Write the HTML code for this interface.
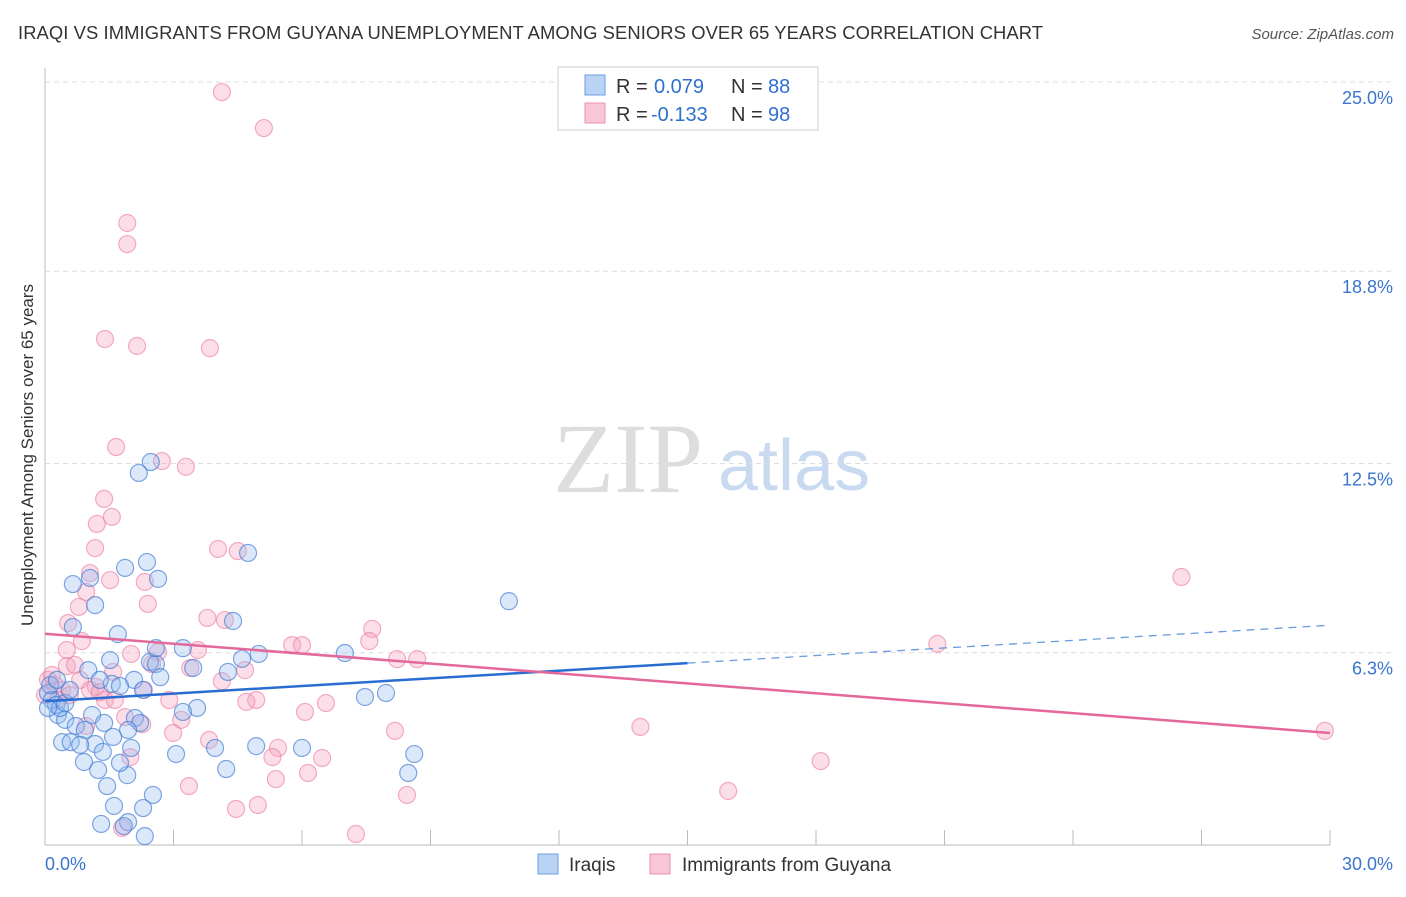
<!DOCTYPE html>
<html><head><meta charset="utf-8"><style>
body{margin:0;background:#fff;font-family:"Liberation Sans",sans-serif;}
#c{position:relative;width:1406px;height:892px;}
</style></head><body>
<div id="c">
<svg id="s" width="1406" height="892" xmlns="http://www.w3.org/2000/svg">
<text x="18" y="39" font-size="18.4" fill="#333" textLength="1025">IRAQI VS IMMIGRANTS FROM GUYANA UNEMPLOYMENT AMONG SENIORS OVER 65 YEARS CORRELATION CHART</text>
<text x="1394" y="39" font-size="15" fill="#555" font-style="italic" text-anchor="end">Source: ZipAtlas.com</text>
<text x="33" y="455" font-size="17" fill="#333" text-anchor="middle" transform="rotate(-90 33 455)">Unemployment Among Seniors over 65 years</text>
<text x="553" y="492" font-size="100" fill="#ddd" font-family="Liberation Serif">ZIP</text>
<text x="718" y="490" font-size="72" fill="#c9daf0">atlas</text>
<g id="grid"></g><g id="pts"></g><g id="lines"></g>
<g>
<rect x="558" y="67" width="260" height="63" fill="#fff" stroke="#ccc"/>
<rect x="585" y="75" width="20" height="20" fill="#b9d3f5" stroke="#6a9be0"/>
<rect x="585" y="103" width="20" height="20" fill="#f9c6d5" stroke="#ee90ae"/>
<text x="616" y="93" font-size="20" fill="#333">R =</text>
<text x="654" y="93" font-size="20" fill="#2f6fd0">0.079</text>
<text x="731" y="93" font-size="20" fill="#333">N =</text>
<text x="768" y="93" font-size="20" fill="#2f6fd0">88</text>
<text x="616" y="121" font-size="20" fill="#333">R =</text>
<text x="651" y="121" font-size="20" fill="#2f6fd0">-0.133</text>
<text x="731" y="121" font-size="20" fill="#333">N =</text>
<text x="768" y="121" font-size="20" fill="#2f6fd0">98</text>
</g>
<rect x="538" y="854" width="20" height="20" fill="#b9d3f5" stroke="#6a9be0"/>
<text x="569" y="871" font-size="19" fill="#333">Iraqis</text>
<rect x="650" y="854" width="20" height="20" fill="#f9c6d5" stroke="#ee90ae"/>
<text x="682" y="871" font-size="19" fill="#333">Immigrants from Guyana</text>
<text x="45" y="870" font-size="18" fill="#3a75cf">0.0%</text>
<text x="1393" y="870" font-size="18" fill="#3a75cf" text-anchor="end">30.0%</text>
</svg></div>
<script>
const yTicks=[25.0,18.8,12.5,6.3];
const yTickLabels=["25.0%","18.8%","12.5%","6.3%"];
const iraqX=[4.74,2.47,2.19,2.38,1.87,2.64,0.65,1.05,1.17,0.65,1.70,4.39,10.83,4.99,7.0,4.6,2.45,2.59,3.46,1.52,1.01,2.69,4.27,2.08,1.56,1.75,1.28,2.29,7.96,7.47,3.55,3.22,1.1,0.3,0.47,2.1,2.22,0.72,1.38,0.93,1.94,0.4,0.6,1.17,0.82,1.59,1.35,3.06,2.01,3.97,4.93,6.0,8.62,0.91,1.24,1.92,1.75,4.23,8.48,1.45,2.52,1.61,2.29,1.31,1.94,1.84,2.33,0.07,0.16,0.26,0.35,0.12,0.47,0.58,0.28,0.07,3.22,2.59];
const iraqY=[9.57,12.55,12.19,9.27,9.08,8.72,8.55,8.75,7.86,7.14,6.91,7.34,7.99,6.26,6.29,6.1,6.0,5.93,5.8,6.06,5.73,5.5,5.67,5.41,5.28,5.21,5.41,5.08,4.98,4.85,4.49,4.36,4.26,4.26,4.1,4.16,4.0,3.9,4.0,3.77,3.77,3.37,3.37,3.31,3.28,3.54,3.05,2.98,3.18,3.18,3.24,3.18,2.98,2.72,2.46,2.29,2.69,2.49,2.36,1.93,1.64,1.28,1.21,0.69,0.75,0.62,0.29,4.98,4.75,4.59,4.49,5.24,4.65,5.08,5.41,4.49,6.45,6.45];
const guyX=[4.13,5.11,1.92,1.92,1.4,2.15,3.85,1.66,2.73,3.29,1.38,1.56,1.21,1.17,4.04,4.5,1.05,1.52,2.33,26.53,0.96,2.4,0.79,0.54,3.79,4.2,7.64,7.57,5.77,6.0,20.83,0.86,3.57,2.64,2.01,8.22,8.69,0.51,1.59,4.67,3.39,2.5,4.13,1.19,2.31,2.9,1.4,4.93,4.7,6.56,6.07,1.87,3.18,2.27,0.96,2.99,8.17,13.9,29.88,3.83,5.44,1.99,5.31,6.47,6.14,5.39,18.11,3.36,15.95,8.45,4.97,4.46,1.8,7.26,0.07,0.23,0.4,0,0.58,0.3,0.16,0.82,0.7,0.51,1.05,1.28,1.63];
const guyY=[24.67,23.49,20.38,19.69,16.58,16.35,16.28,13.04,12.58,12.39,11.34,10.75,10.52,9.73,9.7,9.63,8.91,8.68,8.62,8.78,8.29,7.9,7.8,7.27,7.44,7.37,7.08,6.68,6.55,6.55,6.59,6.68,6.39,6.32,6.26,6.09,6.09,5.86,5.67,5.73,5.8,5.93,5.37,5.18,5.08,4.75,4.75,4.75,4.69,4.65,4.36,4.19,4.1,3.96,3.9,3.67,3.74,3.87,3.74,3.44,3.18,2.88,2.88,2.85,2.36,2.16,2.75,1.93,1.77,1.64,1.31,1.18,0.56,0.36,5.41,5.24,5.08,4.91,4.91,4.75,5.57,5.41,5.9,6.39,5.08,5.01,4.75];
const iraqTrend=[4.71,5.96];
const iraqTrendEnd=7.2;
const guyTrend=[6.92,3.67];
const X=v=>45+v/30*1285, Y=v=>845-v*30.52;
const NS="http://www.w3.org/2000/svg";
function mk(t,a,p){const e=document.createElementNS(NS,t);for(const k in a)e.setAttribute(k,a[k]);p.appendChild(e);return e;}
const g=document.getElementById('grid');
yTicks.forEach((t,i)=>{
 const l=mk('line',{x1:45,x2:1393,y1:Y(t),y2:Y(t),stroke:'#ddd','stroke-dasharray':'5,4'},g);
 
 
 const tx=mk('text',{x:1393,y:Y(t)+22,'font-size':18,fill:'#3a75cf','text-anchor':'end'},g);
 tx.textContent=yTickLabels[i];
 
 
});
const ax=mk('line',{x1:45,x2:45,y1:68,y2:845,stroke:'#bbb'},g);


const bx=mk('line',{x1:45,x2:1330,y1:845,y2:845,stroke:'#bbb'},g);


for(let i=1;i<=10;i++){const t=mk('line',{x1:X(i*3),x2:X(i*3),y1:830,y2:845,stroke:'#bbb'},g);
 
 }
const P=document.getElementById('pts');
guyX.forEach((v,i)=>{const c=mk('circle',{cx:X(v),cy:Y(guyY[i]),r:8.5,fill:'rgba(244,160,188,0.35)',stroke:'rgba(236,120,160,0.6)','stroke-width':1.2},P);
 
 });
iraqX.forEach((v,i)=>{const c=mk('circle',{cx:X(v),cy:Y(iraqY[i]),r:8.5,fill:'rgba(150,190,240,0.35)',stroke:'rgba(60,120,210,0.65)','stroke-width':1.2},P);
 
 });
const L=document.getElementById('lines');
const a=mk('line',{x1:X(0),y1:Y(iraqTrend[0]),x2:X(15),y2:Y(iraqTrend[1]),stroke:'#2a6dd2','stroke-width':2.5},L);


const b=mk('line',{x1:X(15),y1:Y(iraqTrend[1]),x2:X(30),y2:Y(iraqTrendEnd),stroke:'#6a9be0','stroke-width':1.3,'stroke-dasharray':'8,6'},L);


const c=mk('line',{x1:X(0),y1:Y(guyTrend[0]),x2:X(30),y2:Y(guyTrend[1]),stroke:'#e4689a','stroke-width':2.5},L);


</script>
</body></html>
